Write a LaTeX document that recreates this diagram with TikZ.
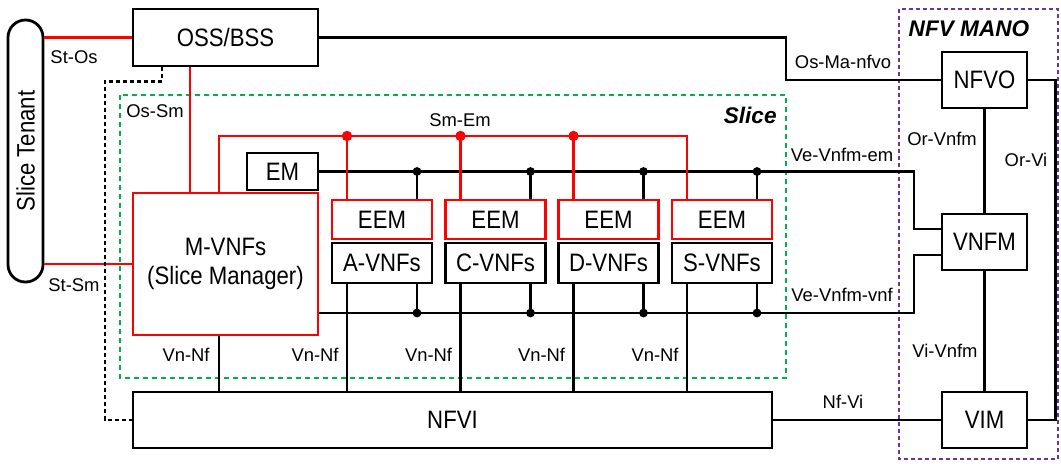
\documentclass[tikz,border=0pt]{standalone}
\usepackage{fontspec}
\setmainfont{Liberation Sans}
\newfontfamily\boxfont{Liberation Sans}[FakeStretch=0.88]
\usetikzlibrary{positioning,calc}
\definecolor{slicered}{HTML}{FF0000}
\definecolor{slicegreen}{HTML}{00B050}
\definecolor{manoviolet}{HTML}{7030A0}
\tikzset{
  box/.style={draw, line width=1.4pt, inner sep=0pt, align=center,
              font=\boxfont\fontsize{12.6}{14.5}\selectfont},
  redbox/.style={box, draw=slicered},
  lnk/.style={line width=1.15pt},
  redlnk/.style={line width=1.3pt, draw=slicered},
  lab/.style={font=\fontsize{9.2}{11}\selectfont, inner sep=0pt},
  title/.style={font=\fontsize{11.3}{13}\selectfont\bfseries\itshape, inner sep=0pt},
}

\begin{document}
\begin{tikzpicture}[x=0.5pt, y=-0.5pt]
  \useasboundingbox (0,0) rectangle (1061,463);
  % frames
  \draw[slicegreen, line width=1.2pt, dash pattern=on 2.5pt off 2pt] (120,95) rectangle (786,378);
  \draw[manoviolet, line width=1.2pt, dash pattern=on 2pt off 1.5pt] (899,9) rectangle (1058,459);
  \node[title, anchor=east] (tslice) at (777,115) {Slice};
  \node[title] (tmano) at (969,29) {NFV MANO};

  % boxes
  \node[box, rotate=90, rounded corners=8.7pt, minimum width=131pt, minimum height=17.5pt] (tenant) at (25.5,151) {Slice Tenant};
  \node[box, minimum width=92.5pt, minimum height=28.5pt] (oss) at (225.5,37.5) {OSS/BSS};
  \node[redbox, minimum width=92.5pt, minimum height=71pt] (mvnf) at (225.5,264) {M-VNFs\\(Slice Manager)};
  \node[box, minimum width=35.5pt, minimum height=18.5pt] (em) at (282.5,171.5) {EM};
  \node[box, minimum width=319.5pt, minimum height=28pt] (nfvi) at (452.5,420) {NFVI};
  \node[box, minimum width=42.5pt, minimum height=28pt] (nfvo) at (984.5,80) {NFVO};
  \node[box, minimum width=42.5pt, minimum height=28pt] (vnfm) at (984.5,242) {VNFM};
  \node[box, minimum width=42.5pt, minimum height=28pt] (vim) at (984.5,420) {VIM};
  \foreach \n/\x/\t in {a/382/A,c/495.5/C,d/608.5/D,s/722/S}{
    \node[redbox, minimum width=50pt, minimum height=19.5pt] (\n eem) at (\x,219.5) {EEM};
    \node[box, minimum width=50pt, minimum height=20pt] (\n vnf) at (\x,263) {\t-VNFs};
    \coordinate (\n tl) at (\x-35,0);
    \coordinate (\n tr) at (\x+35,0);
  }
  \coordinate (smem) at (0,136);
  \coordinate (vvnf) at (0,313);
  \coordinate (vx) at (914,0);
  \coordinate (vnnf) at (0,355);

  % tenant and OSS/BSS
  \draw[redlnk] (tenant.south |- oss.west) -- (oss.west);
  \draw[redlnk] (tenant.south |- mvnf.west) -- (mvnf.west);
  \draw[redlnk] ([xshift=-17.75pt]oss.south) -- ([xshift=-17.75pt]mvnf.north);
  \draw[lnk, line width=1.2pt, dash pattern=on 2pt off 1.5pt] ([xshift=-31.75pt]oss.south) -- ++(0,14) -- ++(-57,0) |- (nfvi.west);
  \node[lab] (lstos) at (74,57) {St-Os};
  \node[lab] (lstsm) at (74,285) {St-Sm};
  \node[lab] (lossm) at (155,111) {Os-Sm};

  % Ve-Vnfm buses
  \draw[lnk] (em.east) -- (vx |- em.east) |- ([yshift=6.5pt]vnfm.west);
  \draw[lnk] (mvnf.east |- vvnf) -- (vx |- vvnf) |- ([yshift=-6.5pt]vnfm.west);
  \foreach \n in {a,c,d,s}{
    \draw[lnk] (\n tr |- em.east) -- (\n tr |- \n eem.north);
    \fill (\n tr |- em.east) circle (2.2pt);
    \draw[lnk] (\n tr |- \n vnf.south) -- (\n tr |- vvnf);
    \fill (\n tr |- vvnf) circle (2.2pt);
    \draw[lnk] (\n tl |- \n vnf.south) -- (\n tl |- nfvi.north);
    \node[lab, anchor=east, xshift=-4pt] (vn\n) at (\n tl |- vnnf) {Vn-Nf};
  }
  \draw[lnk] ([xshift=-3.25pt]mvnf.south) -- ([xshift=-3.25pt]mvnf.south |- nfvi.north);
  \node[lab, anchor=east] (vnm) at (210,355) {Vn-Nf};
  \node[lab] (lvem) at (842,155) {Ve-Vnfm-em};
  \node[lab] (lvvnf) at (842,295) {Ve-Vnfm-vnf};

  % Sm-Em bus
  \draw[redlnk] ([xshift=-3.25pt]mvnf.north) |- (stl |- smem) -- (stl |- seem.north);
  \foreach \n in {a,c,d}{
    \draw[redlnk] (\n tl |- smem) -- (\n tl |- \n eem.north);
    \fill[slicered] (\n tl |- smem) circle (2.6pt);
  }
  \node[lab] (lsmem) at (460,120) {Sm-Em};

  % MANO
  \coordinate (ox) at (786,0);
  \draw[lnk] (oss.east) -- (ox |- oss.east) |- (nfvo.west);
  \draw[lnk] (nfvo) -- (vnfm);
  \draw[lnk] (vnfm) -- (vim);
  \draw[lnk] (nfvo.east) -- ++(27,0) |- (vim.east);
  \draw[lnk] (nfvi.east) -- (vim.west);
  \node[lab] (losma) at (843,62) {Os-Ma-nfvo};
  \node[lab] (lorvnfm) at (942,139) {Or-Vnfm};
  \node[lab] (lvivnfm) at (945,351) {Vi-Vnfm};
  \node[lab] (lorvi) at (1026,160) {Or-Vi};
  \node[lab] (lnfvi) at (843,402) {Nf-Vi};
\end{tikzpicture}
\end{document}
